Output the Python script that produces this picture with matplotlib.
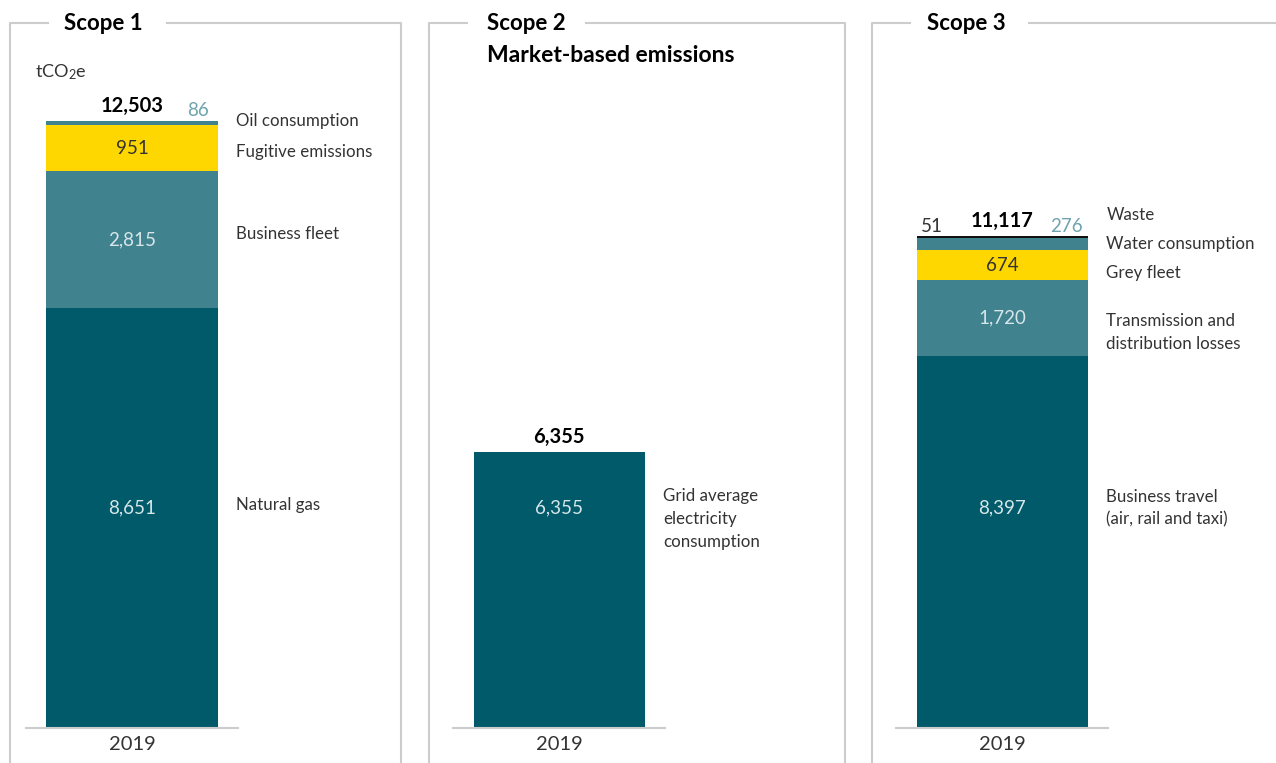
import matplotlib
matplotlib.use("Agg")
import matplotlib.pyplot as plt
from matplotlib.lines import Line2D
from matplotlib.transforms import blended_transform_factory, offset_copy

plt.rcParams['font.family'] = ['Lato', 'DejaVu Sans']
plt.rcParams['mathtext.fontset'] = 'custom'
plt.rcParams['mathtext.rm'] = 'Lato'
plt.rcParams['mathtext.default'] = 'regular'

# data
year = "2019"
unit = "tCO$_2$e"

scope1_labels = ["Natural gas", "Business fleet", "Fugitive emissions", "Oil consumption"]
scope1_values = [8651, 2815, 951, 86]

scope2_labels = ["Grid average\nelectricity\nconsumption"]
scope2_values = [6355]

scope3_labels = ["Business travel\n(air, rail and taxi)", "Transmission and\ndistribution losses",
                 "Grey fleet", "Water consumption", "Waste"]
scope3_values = [8397, 1720, 674, 276, 51]

# reported totals (rounded in the source)
totals = [12503, 6355, 11117]

titles = ["Scope 1", "Scope 2", "Scope 3"]
subtitle2 = "Market-based emissions"

# colours
DARK = "#005a6a"
MID = "#40838f"
YEL = "#ffd700"
BLK = "#111111"
GRID = "#cccccc"
TXT = "#333333"
INNER = "#d7e6e9"

W, H = 1276, 763
fig = plt.figure(figsize=(W / 100, H / 100), dpi=100)
PT = 0.72  # points per pixel at 100 dpi


def fx(x):
    return x / W


def fy(y):
    return 1 - y / H


def frame(pts):
    xs = [fx(p[0]) for p in pts]
    ys = [fy(p[1]) for p in pts]
    fig.add_artist(Line2D(xs, ys, color=GRID, lw=1.5, transform=fig.transFigure))


# frames with gaps for titles
frame([(48, 23), (10, 23), (10, 763)])
frame([(167, 23), (401, 23), (401, 763)])
frame([(467, 23), (429, 23), (429, 763)])
frame([(586, 23), (845, 23), (845, 763)])
frame([(910, 23), (872, 23), (872, 763)])
frame([(1029, 23), (1276, 23)])

fig.text(fx(64), fy(23), titles[0], fontsize=16, fontweight='bold', va='center', ha='left')
fig.text(fx(487), fy(23), titles[1], fontsize=16, fontweight='bold', va='center', ha='left')
fig.text(fx(487), fy(55), subtitle2, fontsize=16.5, fontweight='bold', va='center', ha='left')
fig.text(fx(927), fy(23), titles[2], fontsize=16, fontweight='bold', va='center', ha='left')
fig.text(fx(35), fy(72), unit, fontsize=13, color=TXT, va='center', ha='left')

# panel layout: baseline left px, bar top px, colours, outside label side,
# right-label px offsets, bottom-label offset, outside label pad
panels = [
    dict(values=scope1_values, labels=scope1_labels, total=totals[0], left=26, top=121,
         colors=[DARK, MID, YEL, MID], side=[None, None, None, 'right'],
         roff=[0, -6, 4, -2], boff=-3, pad=9),
    dict(values=scope2_values, labels=scope2_labels, total=totals[1], left=453, top=452,
         colors=[DARK], side=[None], roff=[0], boff=11, pad=5),
    dict(values=scope3_values, labels=scope3_labels, total=totals[2], left=896, top=236,
         colors=[DARK, MID, YEL, MID, BLK], side=[None, None, None, 'right', 'left'],
         roff=[0, 14, 8, 0, -22], boff=0, pad=5),
]

AX_W, AX_TOP, BASE = 212, 100, 728
BAR_PX = 171
LABEL_Y = 508  # fixed height for the bottom segment labels

for p in panels:
    ax = fig.add_axes([fx(p['left']), fy(BASE), AX_W / W, (BASE - AX_TOP) / H])
    total = p['total']
    ymax = sum(p['values']) * (BASE - AX_TOP) / (BASE - p['top'])
    half = AX_W / BAR_PX / 2
    ax.set_xlim(-half, half)
    ax.set_ylim(0, ymax)
    for s in ['top', 'left', 'right']:
        ax.spines[s].set_visible(False)
    ax.spines['bottom'].set_color(GRID)
    ax.spines['bottom'].set_linewidth(1.5)
    ax.set_yticks([])
    ax.set_xticks([0])
    ax.set_xticklabels([year], fontsize=14.5, color=TXT)
    ax.tick_params(axis='x', length=0, pad=6)
    ax.patch.set_alpha(0)

    bar_right_px = p['left'] + AX_W / 2 + BAR_PX / 2
    bar_left_px = p['left'] + AX_W / 2 - BAR_PX / 2
    rt = blended_transform_factory(fig.transFigure, ax.transData)
    lab_x = fx(bar_right_px + 19)

    bottom = 0
    for i, (v, lab, c) in enumerate(zip(p['values'], p['labels'], p['colors'])):
        ax.bar(0, v, width=1, bottom=bottom, color=c, linewidth=0)
        mid = bottom + v / 2
        txt = f"{v:,}"
        if i == 0:
            ax.text(0, fy(LABEL_Y), txt, transform=blended_transform_factory(ax.transData, fig.transFigure),
                    ha='center', va='center', fontsize=13.5, color=INNER)
            fig.text(lab_x, fy(LABEL_Y + p['boff']), lab, ha='left', va='center',
                     fontsize=12.2, color=TXT, linespacing=1.5)
        else:
            if p['side'][i] is None:
                tcol = TXT if c == YEL else INNER
                ax.text(0, mid, txt, ha='center', va='center', fontsize=13.5, color=tcol)
            rtr = offset_copy(rt, fig=fig, x=0, y=-p['roff'][i] * PT, units='points')
            fig.text(lab_x, mid, lab, transform=rtr, ha='left', va='center',
                     fontsize=12.2, color=TXT, linespacing=1.5)
        bottom += v

    # small segments labelled above the bar
    top_val = sum(p['values'])
    for i, v in enumerate(p['values']):
        side = p['side'][i]
        if side is None:
            continue
        col = "#6fa3ae" if p['colors'][i] != BLK else TXT
        tr = offset_copy(rt, fig=fig, x=0, y=10 * PT, units='points')
        if side == 'right':
            fig.text(fx(bar_right_px - p['pad']), top_val, f"{v:,}", transform=tr, ha='right',
                     va='center', fontsize=13.5, color=col)
        else:
            fig.text(fx(bar_left_px + 4), top_val, f"{v:,}", transform=tr, ha='left',
                     va='center', fontsize=13.5, color=col)

    # total above bar
    ax.annotate(f"{total:,}", (0, top_val), xytext=(0, 15 * PT), textcoords='offset points',
                ha='center', va='center', fontsize=14.5, fontweight='bold', color="black")

fig.savefig("out.png", dpi=100)
